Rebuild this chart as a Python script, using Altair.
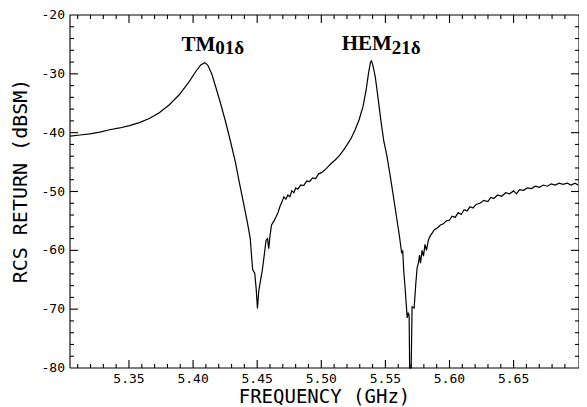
import altair as alt
import pandas as pd

# ---- data ----
freq = [5.3041, 5.3118, 5.3195, 5.3272, 5.3349, 5.3427, 5.3504, 5.3581, 5.3658, 5.3736,
        5.3813, 5.3890, 5.3967, 5.4021, 5.4060, 5.4091, 5.4114, 5.4145, 5.4176, 5.4214,
        5.4253, 5.4292, 5.4330, 5.4361, 5.4392, 5.4423, 5.4446, 5.4458, 5.4465, 5.4481,
        5.4492, 5.4502, 5.4512, 5.4523, 5.4539, 5.4554, 5.4569, 5.4581, 5.4590, 5.4600,
        5.4612, 5.4631, 5.4647, 5.4662, 5.4678, 5.4693, 5.4708, 5.4724, 5.4739, 5.4755,
        5.4770, 5.4786, 5.4801, 5.4817, 5.4840, 5.4863, 5.4886, 5.4909, 5.4932, 5.4956,
        5.4979, 5.5002, 5.5025, 5.5048, 5.5079, 5.5110, 5.5141, 5.5172, 5.5203, 5.5234,
        5.5264, 5.5295, 5.5326, 5.5349, 5.5369, 5.5384, 5.5392, 5.5403, 5.5421, 5.5442,
        5.5465, 5.5488, 5.5512, 5.5535, 5.5563, 5.5581, 5.5602, 5.5612, 5.5627, 5.5635,
        5.5643, 5.5653, 5.5662, 5.5670, 5.5678, 5.5685, 5.5689, 5.5701, 5.5708, 5.5724,
        5.5736, 5.5747, 5.5759, 5.5766, 5.5774, 5.5786, 5.5797, 5.5809, 5.5820, 5.5836,
        5.5851, 5.5867, 5.5882, 5.5905, 5.5929, 5.5952, 5.5975, 5.5998, 5.6021, 5.6044,
        5.6068, 5.6091, 5.6114, 5.6137, 5.6160, 5.6183, 5.6207, 5.6237, 5.6268, 5.6299,
        5.6322, 5.6345, 5.6376, 5.6407, 5.6438, 5.6469, 5.6500, 5.6523, 5.6546, 5.6577,
        5.6608, 5.6639, 5.6670, 5.6701, 5.6732, 5.6763, 5.6793, 5.6824, 5.6855, 5.6886,
        5.6917, 5.6948, 5.6979, 5.7002]
rcs = [-40.6, -40.4, -40.2, -39.9, -39.5, -39.2, -38.8, -38.3, -37.6, -36.6,
       -35.3, -33.6, -31.4, -29.6, -28.5, -28.1, -28.5, -30.0, -32.2, -35.0,
       -38.1, -41.5, -45.0, -48.5, -51.8, -55.2, -58.0, -61.5, -63.3, -63.9,
       -66.5, -69.9, -67.0, -65.5, -63.5, -61.0, -58.3, -58.0, -59.7, -57.5,
       -55.7, -55.0, -54.3, -53.6, -52.5, -51.8, -50.9, -51.3, -50.6, -50.9,
       -49.9, -50.2, -49.4, -49.6, -48.9, -49.0, -48.2, -48.3, -47.7, -47.8,
       -47.0, -46.8, -46.4, -45.9, -45.2, -44.6, -43.9, -43.0, -42.0, -40.9,
       -39.5, -37.8, -35.5, -32.8, -29.8, -28.0, -27.8, -28.6, -30.5, -34.0,
       -38.0, -41.5, -44.0, -47.0, -50.9, -53.5, -56.5, -58.0, -60.5, -60.0,
       -63.5, -66.2, -69.0, -71.5, -70.7, -71.0, -80.0, -80.0, -69.6, -69.8,
       -66.0, -63.0, -62.0, -60.8, -62.2, -60.0, -61.0, -59.0, -60.0, -58.2,
       -57.5, -57.0, -56.5, -56.2, -55.7, -55.5, -55.0, -54.9, -54.2, -54.4,
       -53.6, -53.9, -53.1, -53.3, -52.6, -52.8, -52.2, -52.0, -51.5, -51.7,
       -51.0, -51.2, -50.6, -50.8, -50.2, -50.4, -49.9, -50.4, -49.7, -49.8,
       -49.4, -49.5, -49.1, -49.3, -48.9, -49.1, -48.7, -48.9, -48.6, -48.8,
       -48.6, -48.9, -48.6, -48.9]

x_labels = [5.35, 5.40, 5.45, 5.50, 5.55, 5.60, 5.65]
x_label_text = ["5.35", "5.40", "5.45", "5.50", "5.55", "5.60", "5.65"]
x_minor = [5.31, 5.32, 5.33, 5.34, 5.36, 5.37, 5.38, 5.39, 5.41, 5.42, 5.43, 5.44,
           5.46, 5.47, 5.48, 5.49, 5.51, 5.52, 5.53, 5.54, 5.56, 5.57, 5.58, 5.59,
           5.61, 5.62, 5.63, 5.64, 5.66, 5.67, 5.68, 5.69]
y_labels = [-80, -70, -60, -50, -40, -30, -20]
y_label_text = ["-80", "-70", "-60", "-50", "-40", "-30", "-20"]
y_major = [-70, -60, -50, -40, -30]
y_minor = [-78, -76, -74, -72, -68, -66, -64, -62, -58, -56, -54, -52,
           -48, -46, -44, -42, -38, -36, -34, -32, -28, -26, -24, -22]

x_title = "FREQUENCY (GHz)"
y_title = "RCS RETURN (dBSM)"

ann_main = ["TM", "HEM"]
ann_sub = ["01δ", "21δ"]
ann_x = [5.4173, 5.5550]
ann_y_main = [-26.2, -26.0]
ann_y_sub = [-26.6, -26.6]

X_DOMAIN = [5.304, 5.701]
Y_DOMAIN = [-80, -20]
W, H = 509, 353
MAJ, MIN = 8, 4          # tick lengths in pixels
MONO = "DejaVu Sans Mono"

XPX = (X_DOMAIN[1] - X_DOMAIN[0]) / W   # data units per pixel
YPX = (Y_DOMAIN[1] - Y_DOMAIN[0]) / H

df = pd.DataFrame({"f": freq, "rcs": rcs})
ann_df = pd.DataFrame({"ax": ann_x, "ym": ann_y_main, "ys": ann_y_sub,
                       "main": ann_main, "sub": ann_sub})
xlab_df = pd.DataFrame({"xv": x_labels, "xt": x_label_text})
ylab_df = pd.DataFrame({"yv": y_labels, "yt": y_label_text})

# tick segments (inward on all four sides) and the frame, built as short paths
rows = []
tid = 0
x0, x1 = X_DOMAIN
y0, y1 = Y_DOMAIN
for vals, ln in ((x_labels, MAJ), (x_minor, MIN)):
    for v in vals:
        for ya, yb in ((y0, y0 + ln * YPX), (y1, y1 - ln * YPX)):
            rows += [{"id": tid, "o": 0, "px": v, "py": ya},
                     {"id": tid, "o": 1, "px": v, "py": yb}]
            tid += 1
for vals, ln in ((y_major, MAJ), (y_minor, MIN)):
    for v in vals:
        for xa, xb in ((x0, x0 + ln * XPX), (x1, x1 - ln * XPX)):
            rows += [{"id": tid, "o": 0, "px": xa, "py": v},
                     {"id": tid, "o": 1, "px": xb, "py": v}]
            tid += 1
for i, (cx, cy) in enumerate([(x0, y0), (x0, y1), (x1, y1), (x1, y0), (x0, y0)]):
    rows.append({"id": tid, "o": i, "px": cx, "py": cy})
seg_df = pd.DataFrame(rows)

xs = alt.Scale(domain=X_DOMAIN, nice=False, zero=False)
ys = alt.Scale(domain=Y_DOMAIN, nice=False, zero=False)


def X(field):
    return alt.X(f"{field}:Q", scale=xs, axis=None)


def Y(field):
    return alt.Y(f"{field}:Q", scale=ys, axis=None)


line = alt.Chart(df).mark_line(color="black", strokeWidth=1.2).encode(
    x=X("f"), y=Y("rcs"))

segs = alt.Chart(seg_df).mark_line(color="black", strokeWidth=1.1).encode(
    x=X("px"), y=Y("py"), detail="id:N", order="o:Q")

xlab = alt.Chart(xlab_df).mark_text(
    font=MONO, fontSize=13, align="center", baseline="top", color="black").encode(
    x=X("xv"), y=alt.value(H + 5), text="xt:N")
ylab = alt.Chart(ylab_df).mark_text(
    font=MONO, fontSize=13, align="right", baseline="middle", color="black").encode(
    y=Y("yv"), x=alt.value(-5), text="yt:N")

title_df = pd.DataFrame({"xtitle": [x_title], "ytitle": [y_title]})
xtitle = alt.Chart(title_df).mark_text(
    font=MONO, fontSize=19, align="center", baseline="alphabetic", color="black").encode(
    x=alt.value(W / 2), y=alt.value(H + 35), text="xtitle:N")
ytitle = alt.Chart(title_df).mark_text(
    font=MONO, fontSize=20, align="center", baseline="middle", angle=270,
    color="black").encode(
    x=alt.value(-49), y=alt.value(166), text="ytitle:N")

ann_main_layer = alt.Chart(ann_df).mark_text(
    font="Liberation Serif", fontWeight="bold", fontSize=21, align="right",
    baseline="alphabetic", color="black").encode(x=X("ax"), y=Y("ym"), text="main:N")
ann_sub_layer = alt.Chart(ann_df).mark_text(
    font="Liberation Serif", fontWeight="bold", fontSize=19, align="left",
    baseline="alphabetic", color="black").encode(x=X("ax"), y=Y("ys"), text="sub:N")

chart = alt.layer(line, segs, xlab, ylab, xtitle, ytitle,
                  ann_main_layer, ann_sub_layer).properties(
    width=W, height=H,
    autosize=alt.AutoSizeParams(type="none"),
    padding={"left": 62, "top": 7, "right": 0, "bottom": 39},
    background="white",
).configure_view(stroke=None)

chart.save("out.html", embed_options={"renderer": "svg", "actions": False})
